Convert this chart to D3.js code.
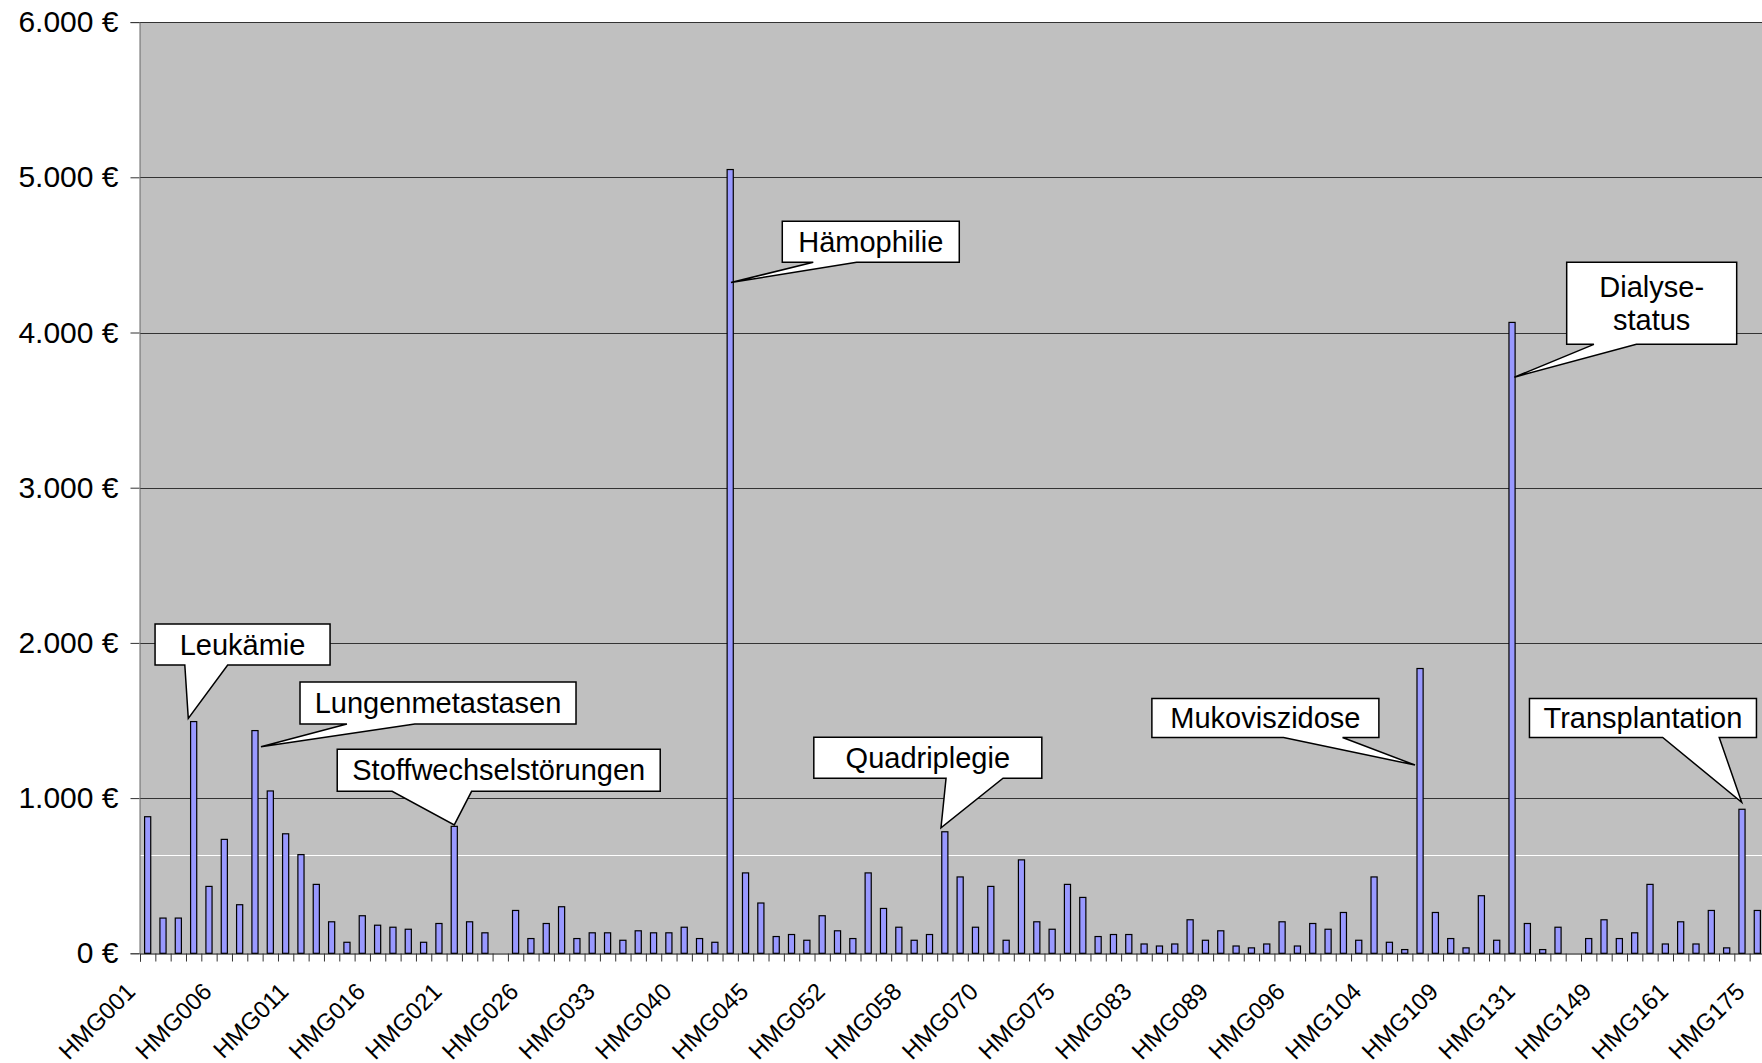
<!DOCTYPE html>
<html>
<head>
<meta charset="utf-8">
<script src="https://cdn.jsdelivr.net/npm/d3@7"></script>
<style>
  body { margin: 0; background: #fff; }
  svg { display: block; font-family: 'Liberation Sans', Arial, sans-serif; }
</style>
</head>
<body>
<svg id="chart"></svg>
<script>
// tick labels shown under every 5th category
const tickLabels = ['HMG001', 'HMG006', 'HMG011', 'HMG016', 'HMG021', 'HMG026', 'HMG033', 'HMG040',
  'HMG045', 'HMG052', 'HMG058', 'HMG070', 'HMG075', 'HMG083', 'HMG089', 'HMG096', 'HMG104',
  'HMG109', 'HMG131', 'HMG149', 'HMG161', 'HMG175'];

// cost per category (EUR)
const costs = [
  880, 227, 227, 1493, 431, 734, 313, 1435, 1046, 770,
  636, 444, 203, 71, 242, 181, 168, 155, 71, 192,
  818, 203, 132, 0, 276, 95, 192, 300, 95, 132,
  132, 84, 145, 132, 132, 168, 95, 71, 5050, 518,
  324, 108, 121, 84, 242, 145, 95, 518, 289, 168,
  84, 121, 783, 492, 168, 431, 84, 602, 203, 155,
  444, 360, 108, 121, 121, 60, 47, 60, 216, 84,
  145, 47, 35, 60, 203, 47, 192, 155, 263, 84,
  492, 71, 24, 1835, 263, 95, 35, 371, 84, 4065,
  192, 24, 168, 0, 95, 216, 95, 132, 444, 60,
  203, 60, 276, 35, 928, 276
];

const meanCost = 632;
const yTicks = [0, 1000, 2000, 3000, 4000, 5000, 6000];

// callouts: label lines, box centre (category position, value), pointer tip (category position, value)
const callouts = [
  { lines: ['Leukämie'], boxAt: 6.69, boxVal: 1990, tipAt: 3.15, tipVal: 1514 },
  { lines: ['Lungenmetastasen'], boxAt: 19.44, boxVal: 1613, tipAt: 7.89, tipVal: 1331 },
  { lines: ['Stoffwechselstörungen'], boxAt: 23.40, boxVal: 1179, tipAt: 20.50, tipVal: 827 },
  { lines: ['Hämophilie'], boxAt: 47.67, boxVal: 4585, tipAt: 38.55, tipVal: 4322 },
  { lines: ['Quadriplegie'], boxAt: 51.39, boxVal: 1260, tipAt: 52.25, tipVal: 809 },
  { lines: ['Mukoviszidose'], boxAt: 73.41, boxVal: 1516, tipAt: 83.17, tipVal: 1213 },
  { lines: ['Dialyse-', 'status'], boxAt: 98.61, boxVal: 4188, tipAt: 89.65, tipVal: 3712 },
  { lines: ['Transplantation'], boxAt: 98.04, boxVal: 1516, tipAt: 104.48, tipVal: 973 }
];

// box sizes and wedge base (as fraction of box width), same order as callouts
const calloutLayout = [
  { w: 175, h: 41, b: [0.17, 0.415] },
  { w: 276, h: 42, b: [0.17, 0.416] },
  { w: 323, h: 42, b: [0.17, 0.416] },
  { w: 177, h: 41, b: [0.175, 0.42] },
  { w: 228, h: 41, b: [0.58, 0.83] },
  { w: 227, h: 39, b: [0.58, 0.84] },
  { w: 170, h: 82, b: [0.16, 0.41] },
  { w: 227, h: 39, b: [0.587, 0.836] }
];

const width = 1762, height = 1063;
const left = 140, step = 15.33;
const n = costs.length;

const svg = d3.select('#chart')
  .attr('width', width)
  .attr('height', height);

const xPos = d3.scaleLinear()
  .domain([0, n])
  .range([left, left + n * step]);

const x = d3.scaleBand()
  .domain(d3.range(n))
  .range([left, left + n * step])
  .paddingInner(0)
  .paddingOuter(0);

const y = d3.scaleLinear()
  .domain([0, 6000])
  .range([953.3, 22.1]);

// plot background
svg.append('rect')
  .attr('x', left)
  .attr('y', y(6000))
  .attr('width', width - left)
  .attr('height', y(0) - y(6000))
  .attr('fill', '#c0c0c0');

// gridlines
svg.append('g')
  .selectAll('line')
  .data(yTicks.filter(d => d > 0))
  .join('line')
  .attr('x1', left)
  .attr('x2', width)
  .attr('y1', d => Math.round(y(d)) + 0.5)
  .attr('y2', d => Math.round(y(d)) + 0.5)
  .attr('stroke', '#333')
  .attr('stroke-width', 1);

// average line
svg.append('line')
  .attr('x1', left)
  .attr('x2', width)
  .attr('y1', Math.round(y(meanCost)) + 0.5)
  .attr('y2', Math.round(y(meanCost)) + 0.5)
  .attr('stroke', '#fff')
  .attr('stroke-width', 1);

// bars (empty categories keep their slot)
const barW = x.bandwidth() * 0.4;
const barData = costs.map((v, i) => ({ i, v })).filter(d => d.v > 0);
svg.append('g')
  .selectAll('rect')
  .data(barData)
  .join('rect')
  .attr('x', d => x(d.i) + (x.bandwidth() - barW) / 2)
  .attr('y', d => y(d.v))
  .attr('width', barW)
  .attr('height', d => y(0) - y(d.v))
  .attr('fill', '#9999ff')
  .attr('stroke', '#000')
  .attr('stroke-width', 1.2);

// y axis
const de = d3.formatLocale({ decimal: ',', thousands: '.', grouping: [3], currency: ['', ' €'] });
const yAxis = svg.append('g')
  .attr('transform', `translate(${left - 0.5},0)`)
  .call(d3.axisLeft(y).tickValues(yTicks).tickSize(9).tickPadding(12).tickFormat(de.format('$,.0f')));
yAxis.select('.domain').attr('stroke', '#666');
yAxis.selectAll('.tick line').attr('stroke', '#333');
yAxis.selectAll('text')
  .attr('font-family', "'Liberation Sans', Arial, sans-serif")
  .attr('font-size', 30)
  .attr('fill', '#000');

// x axis with boundary ticks
const xAxis = svg.append('g')
  .attr('transform', `translate(0,${Math.round(y(0)) + 0.5})`)
  .call(d3.axisBottom(xPos).tickValues(d3.range(n + 1)).tickSize(8).tickFormat(''));
xAxis.select('.domain').attr('stroke', '#000');
xAxis.selectAll('.tick line').attr('stroke', '#333');

// rotated category labels
svg.append('g')
  .selectAll('text')
  .data(tickLabels)
  .join('text')
  .attr('transform', (d, i) => `translate(${x(i * 5) + x.bandwidth() / 2 - 11},993) rotate(-45)`)
  .attr('text-anchor', 'end')
  .attr('font-size', 24)
  .attr('fill', '#000')
  .text(d => d);

// callouts
const cg = svg.append('g');
callouts.forEach((c, k) => {
  const lay = calloutLayout[k];
  const cx = xPos(c.boxAt), cy = y(c.boxVal);
  const x0 = cx - lay.w / 2, x1 = cx + lay.w / 2;
  const y0 = cy - lay.h / 2, y1 = cy + lay.h / 2;
  const bA = x0 + lay.b[0] * lay.w, bB = x0 + lay.b[1] * lay.w;
  const tx = xPos(c.tipAt), ty = y(c.tipVal);
  const path = d3.path();
  path.moveTo(x0, y0);
  path.lineTo(x1, y0);
  path.lineTo(x1, y1);
  path.lineTo(bB, y1);
  path.lineTo(tx, ty);
  path.lineTo(bA, y1);
  path.lineTo(x0, y1);
  path.closePath();
  cg.append('path')
    .attr('d', path.toString())
    .attr('fill', '#fff')
    .attr('stroke', '#000')
    .attr('stroke-width', 1.5)
    .attr('stroke-linejoin', 'miter');
  const lh = 33;
  c.lines.forEach((t, j) => {
    cg.append('text')
      .attr('x', cx)
      .attr('y', cy + (j - (c.lines.length - 1) / 2) * lh)
      .attr('dy', '0.35em')
      .attr('text-anchor', 'middle')
      .attr('font-size', 29)
      .attr('fill', '#000')
      .text(t);
  });
});
</script>
</body>
</html>
